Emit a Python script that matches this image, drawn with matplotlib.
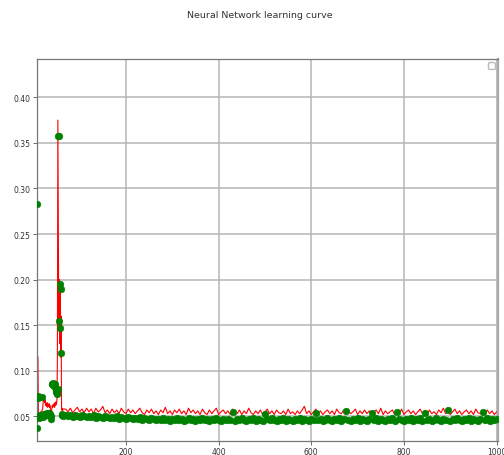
import numpy as np
import matplotlib.pyplot as plt

# epochs: every epoch at the start, then every 5th
early_epochs = list(range(8, 65))
late_epochs = list(range(70, 1001, 5))

early_red = [0.116, 0.116, 0.115, 0.050, 0.052, 0.050, 0.053, 0.051, 0.055, 0.052,
             0.054, 0.057, 0.058, 0.064, 0.069, 0.067, 0.070, 0.065, 0.068, 0.062,
             0.064, 0.061, 0.065, 0.060, 0.063, 0.061, 0.064, 0.060, 0.062, 0.058,
             0.052, 0.043, 0.059, 0.062, 0.060, 0.063, 0.061, 0.064, 0.060, 0.065,
             0.062, 0.066, 0.063, 0.068, 0.110, 0.375, 0.260, 0.150, 0.200, 0.130,
             0.190, 0.115, 0.160, 0.057, 0.059, 0.056, 0.058]

early_green = [0.283, 0.037, 0.072, 0.070, 0.050, 0.048, 0.051, 0.049, 0.052, 0.050,
               0.071, 0.051, 0.049, 0.052, 0.050, 0.053, 0.051, 0.053, 0.052, 0.053,
               0.051, 0.054, 0.052, 0.053, 0.052, 0.054, 0.052, 0.053, 0.052, 0.051,
               0.050, 0.047, 0.086, 0.085, 0.087, 0.084, 0.086, 0.083, 0.085, 0.082,
               0.079, 0.077, 0.078, 0.076, 0.075, 0.080, 0.357, 0.358, 0.155, 0.147,
               0.195, 0.190, 0.120, 0.052, 0.051, 0.053, 0.050]

late_red = [0.058, 0.055, 0.059, 0.054, 0.057, 0.060, 0.055, 0.058, 0.054, 0.059,
            0.055, 0.058, 0.053, 0.059, 0.055, 0.057, 0.061, 0.054, 0.057, 0.053,
            0.058, 0.054, 0.057, 0.053, 0.059, 0.055, 0.053, 0.058, 0.054, 0.057,
            0.053, 0.056, 0.059, 0.054, 0.052, 0.057, 0.054, 0.058, 0.053, 0.056,
            0.052, 0.057, 0.054, 0.060, 0.053, 0.056, 0.052, 0.057, 0.054, 0.058,
            0.053, 0.056, 0.052, 0.059, 0.054, 0.057, 0.053, 0.056, 0.052, 0.058,
            0.054, 0.052, 0.057, 0.053, 0.056, 0.059, 0.052, 0.055, 0.057, 0.053,
            0.056, 0.052, 0.058, 0.054, 0.053, 0.057, 0.052, 0.056, 0.053, 0.059,
            0.054, 0.052, 0.056, 0.053, 0.057, 0.052, 0.055, 0.058, 0.053, 0.056,
            0.052, 0.057, 0.054, 0.053, 0.056, 0.052, 0.058, 0.053, 0.055, 0.052,
            0.056, 0.053, 0.057, 0.061, 0.053, 0.056, 0.052, 0.055, 0.058, 0.053,
            0.056, 0.052, 0.055, 0.057, 0.053, 0.056, 0.052, 0.058, 0.054, 0.053,
            0.057, 0.052, 0.056, 0.053, 0.055, 0.058, 0.052, 0.056, 0.053, 0.057,
            0.053, 0.056, 0.052, 0.055, 0.057, 0.053, 0.059, 0.052, 0.056, 0.053,
            0.055, 0.057, 0.052, 0.056, 0.053, 0.058, 0.052, 0.055, 0.057, 0.053,
            0.056, 0.052, 0.055, 0.058, 0.053, 0.056, 0.052, 0.057, 0.053, 0.055,
            0.052, 0.057, 0.054, 0.059, 0.053, 0.056, 0.052, 0.055, 0.058, 0.053,
            0.056, 0.052, 0.055, 0.057, 0.053, 0.056, 0.052, 0.058, 0.054, 0.053,
            0.056, 0.052, 0.057, 0.053, 0.056, 0.052, 0.055]

late_green = [0.051, 0.050, 0.052, 0.049, 0.051, 0.050, 0.049, 0.051, 0.050, 0.049,
              0.050, 0.049, 0.051, 0.048, 0.050, 0.049, 0.048, 0.050, 0.049, 0.048,
              0.049, 0.048, 0.050, 0.047, 0.049, 0.048, 0.047, 0.049, 0.048, 0.047,
              0.048, 0.047, 0.049, 0.046, 0.048, 0.047, 0.046, 0.048, 0.047, 0.046,
              0.047, 0.046, 0.048, 0.046, 0.047, 0.045, 0.047, 0.046, 0.048, 0.046,
              0.047, 0.045, 0.046, 0.048, 0.046, 0.047, 0.045, 0.047, 0.046, 0.048,
              0.046, 0.047, 0.045, 0.047, 0.046, 0.048, 0.046, 0.045, 0.047, 0.046,
              0.047, 0.046, 0.055, 0.045, 0.047, 0.046, 0.048, 0.046, 0.045, 0.047,
              0.046, 0.048, 0.045, 0.047, 0.046, 0.045, 0.053, 0.047, 0.046, 0.048,
              0.046, 0.045, 0.047, 0.046, 0.048, 0.045, 0.047, 0.046, 0.045, 0.047,
              0.046, 0.048, 0.045, 0.047, 0.046, 0.045, 0.047, 0.046, 0.054, 0.046,
              0.047, 0.045, 0.046, 0.048, 0.046, 0.045, 0.047, 0.046, 0.048, 0.045,
              0.047, 0.056, 0.046, 0.045, 0.047, 0.046, 0.048, 0.045, 0.047, 0.046,
              0.045, 0.047, 0.054, 0.046, 0.048, 0.045, 0.047, 0.046, 0.045, 0.047,
              0.046, 0.048, 0.045, 0.055, 0.047, 0.046, 0.045, 0.047, 0.046, 0.048,
              0.045, 0.047, 0.046, 0.048, 0.045, 0.054, 0.046, 0.047, 0.045, 0.046,
              0.048, 0.046, 0.045, 0.047, 0.046, 0.057, 0.045, 0.047, 0.046, 0.048,
              0.046, 0.045, 0.047, 0.046, 0.048, 0.045, 0.047, 0.046, 0.045, 0.047,
              0.055, 0.046, 0.048, 0.045, 0.047, 0.046, 0.047]

epochs = np.array(early_epochs + late_epochs)
red_curve = np.array(early_red + late_red)
green_pts = np.array(early_green + late_green)

fig = plt.figure(figsize=(5.04, 4.56), dpi=100)
ax = fig.add_axes([37/504, 1 - 442/456, 461/504, 382/456])

ax.plot(epochs, red_curve, color='red', lw=0.8, zorder=2)
ax.plot(epochs, green_pts, 'o', color='green', ms=4.8, mew=0.4, mec='green', zorder=3)

ax.set_xlim(8, 1003)
ax.set_ylim(0.023, 0.442)
ax.set_xticks([200, 400, 600, 800, 1000])
ax.set_yticks([0.05, 0.10, 0.15, 0.20, 0.25, 0.30, 0.35, 0.40])
ax.yaxis.set_major_formatter(plt.FormatStrFormatter('%.2f'))
ax.tick_params(labelsize=5.5, labelcolor='#333333', length=3, width=0.6, color='#555555', pad=1.5)
ax.grid(True, color='#b5b5b5', lw=1.1)
ax.set_axisbelow(True)
for s in ax.spines.values():
    s.set_color('#777777')
    s.set_linewidth(0.9)
ax.spines['right'].set_color('#aaaaaa')
ax.spines['right'].set_linewidth(1.6)

# empty legend box in the corner, as in the original
leg = ax.legend(handles=[], labels=[], loc='upper right', fontsize=5, borderpad=0.5,
                frameon=True, framealpha=1)
leg.get_frame().set_edgecolor('#bbbbbb')

fig.text(260/504, 1 - 15/456, 'Neural Network learning curve', ha='center', va='center',
         fontsize=6.8, color='#333333')

fig.savefig('out.png', dpi=100)
